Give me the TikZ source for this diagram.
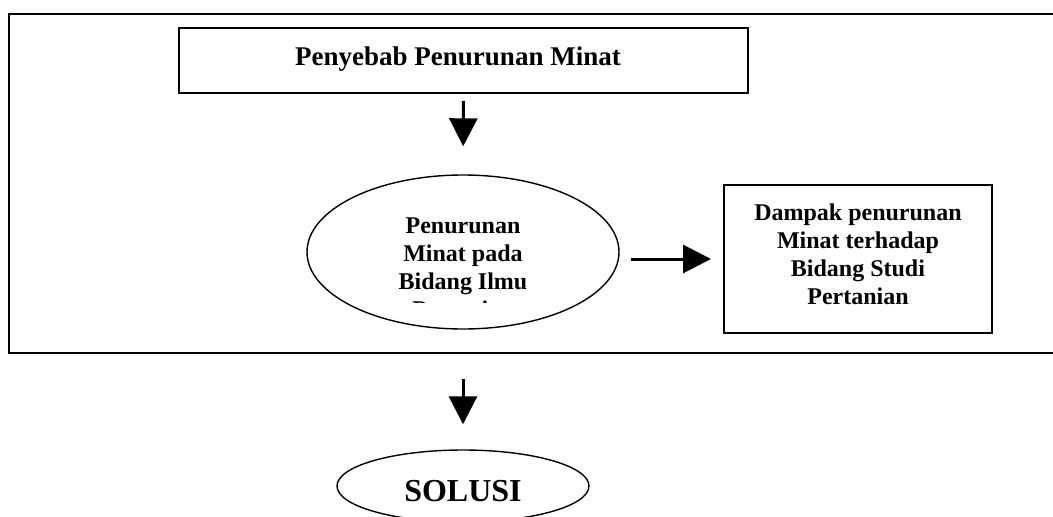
\documentclass[tikz,border=0pt]{standalone}
\usepackage{fontspec}
\setmainfont{Liberation Serif}
\usetikzlibrary{arrows.meta,shapes.geometric}
\begin{document}
\begin{tikzpicture}[x=1pt,y=-1pt,
  frame/.style={line width=2pt},
  boxnode/.style={draw,line width=2pt,rectangle,inner sep=0pt},
  ellnode/.style={draw,line width=1.4pt,ellipse,inner sep=0pt},
  txt/.style={font=\bfseries\fontsize{24}{28}\selectfont,align=center},
  arr/.style={line width=3pt,-{Triangle[length=28pt,width=28pt]}}]
\useasboundingbox (0,0) rectangle (1053,517);
\draw[frame] (1060,14) -- (9,14) -- (9,353) -- (1060,353);
\coordinate (fb) at (463,353);
\node[boxnode, minimum width=569pt, minimum height=65pt] (top) at (463.5,60.5) {};
\node[font=\bfseries\fontsize{27}{32}\selectfont] (toptext) at (458,59) {Penyebab Penurunan Minat};
\node[ellnode, minimum width=312pt, minimum height=154pt] (ell) at (463,252) {};
\begin{scope}
  \clip (300,170) rectangle (630,302);
  \node[txt] (elltext) at (463,268) {Penurunan\\Minat pada\\Bidang Ilmu\\Pertanian};
\end{scope}
\node[boxnode, minimum width=268pt, minimum height=148pt] (dbox) at (858,259) {};
\node[txt] (dtext) at (858,254) {Dampak penurunan\\Minat terhadap\\Bidang Studi\\Pertanian};
\node[ellnode, minimum width=252pt, minimum height=72pt] (sol) at (463,486) {};
\node[font=\bfseries\fontsize{32}{38}\selectfont] (soltext) at (463,491) {SOLUSI};
\draw[arr, shorten <=7pt, shorten >=28pt] (top.south) -- (ell.north);
\draw[arr, shorten <=11pt, shorten >=12pt] (ell.east |- dbox.west) -- (dbox.west);
\draw[arr, shorten <=26pt, shorten >=25pt] (fb) -- (sol.north);
\end{tikzpicture}
\end{document}
